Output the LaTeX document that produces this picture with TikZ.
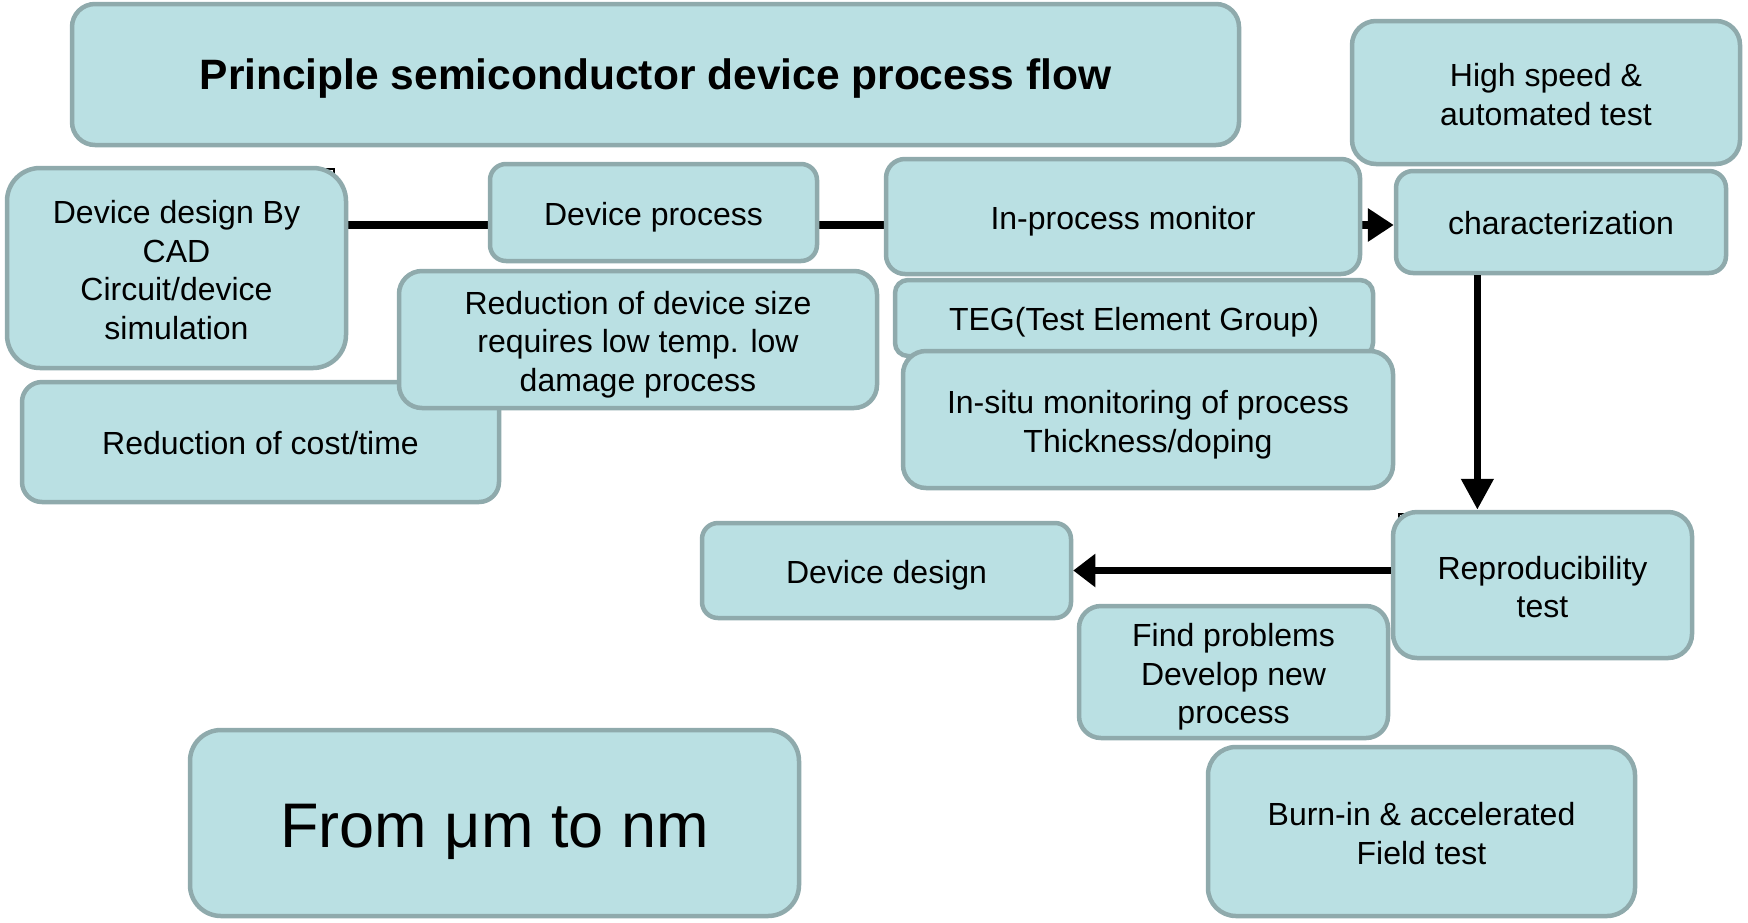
\documentclass[tikz,border=0pt]{standalone}
\usepackage{fontspec}
\setmainfont{Liberation Sans}
\usetikzlibrary{arrows.meta,calc,backgrounds}
\definecolor{boxfill}{HTML}{BAE0E3}
\definecolor{boxline}{HTML}{8FAAAC}
\def\boxstrut{1.0em}
% strut opening the first line of a multi-line label
\newcommand\firstline{\vrule height 1.05em depth 0pt width 0pt}
\tikzset{
  strutht/.code={\def\boxstrut{#1}},
  box/.style={draw=boxline, fill=boxfill, line width=4.5pt, align=center,
    inner sep=0pt, font=\fontsize{32}{38.5}\selectfont,
    % fixed ascent/descent struts so lines sit like in a text frame
    execute at begin node={\vrule height \boxstrut depth 0pt width 0pt},
    execute at end node={\vrule height 0pt depth 0.212em width 0pt}},
  flow/.style={line width=7.5pt, draw=black},
  frame/.style={draw=black, line width=1.3pt},
}
\begin{document}
\begin{tikzpicture}[x=1pt,y=-1pt]
\useasboundingbox (0,0) rectangle (1748,922);

% plain text frames lying under two of the rounded boxes
\draw[frame] (60,169) rectangle (334,340);
\draw[frame] (1399,514) rectangle (1680,640);

% title and header boxes
\node[box, strutht=0.905em, minimum width=1167, minimum height=141, rounded corners=23pt,
      font=\fontsize{42.5}{51}\selectfont\bfseries] (title) at (655.5,74.5)
      {Principle semiconductor device process flow};
\node[box, minimum width=388, minimum height=143, rounded corners=24pt] (speed) at (1546,92.5)
      {\firstline High speed \&\\automated test};

% left column
\node[box, minimum width=339, minimum height=200, rounded corners=33pt] (cad) at (176.5,268)
      {\firstline Device design By\\CAD\\Circuit/device\\simulation};
\node[box, minimum width=477, minimum height=120, rounded corners=20pt] (cost) at (260.5,442)
      {Reduction of cost/time};
\node[box, minimum width=478, minimum height=137, rounded corners=23pt] (reduce) at (638,339.5)
      {\firstline Reduction of device size\\requires low temp. low\\damage process};
\node[box, minimum width=327, minimum height=97, rounded corners=16pt] (process) at (653.5,212.5)
      {Device process};

% monitoring column
\node[box, minimum width=474, minimum height=115, rounded corners=19pt] (monitor) at (1123,216.5)
      {In-process monitor};
\node[box, minimum width=478, minimum height=76, rounded corners=13pt] (teg) at (1134,318)
      {TEG(Test Element Group)};
\node[box, minimum width=490, minimum height=137, rounded corners=23pt] (insitu) at (1148,419.5)
      {\firstline In-situ monitoring of process\\Thickness/doping};

% right column and feedback
\node[box, minimum width=330, minimum height=102, rounded corners=17pt] (charact) at (1561,222)
      {characterization};
\node[box, minimum width=299, minimum height=146, rounded corners=24pt] (repro) at (1542.5,585)
      {\firstline Reproducibility\\test};
\node[box, minimum width=369, minimum height=95, rounded corners=16pt] (design) at (886.5,570.5)
      {Device design};
\node[box, minimum width=309, minimum height=132, rounded corners=22pt] (find) at (1233.5,672)
      {\firstline Find problems\\Develop new\\process};
\node[box, minimum width=427, minimum height=169, rounded corners=28pt] (burnin) at (1421.5,831.5)
      {\firstline Burn-in \& accelerated\\Field test};
\node[box, minimum width=609, minimum height=186, rounded corners=31pt,
      font=\fontsize{63}{75}\selectfont] (from) at (494.5,823)
      {From μm to nm};

% connectors
\coordinate (main) at ([yshift=-3pt]charact.west);
\coordinate (down) at ($(charact.south west)!0.25!(charact.south east)$);
\begin{scope}[on background layer]
  \draw[flow, -{Triangle[length=26pt,width=32pt]}] (cad.east |- main) -- (main);
\end{scope}
\draw[flow, -{Triangle[length=31pt,width=31pt]}] (down) -- (repro.north -| down);
\draw[flow, -{Triangle[length=22pt,width=32pt]}] (repro.west |- design.east) -- (design.east);
\end{tikzpicture}
\end{document}
